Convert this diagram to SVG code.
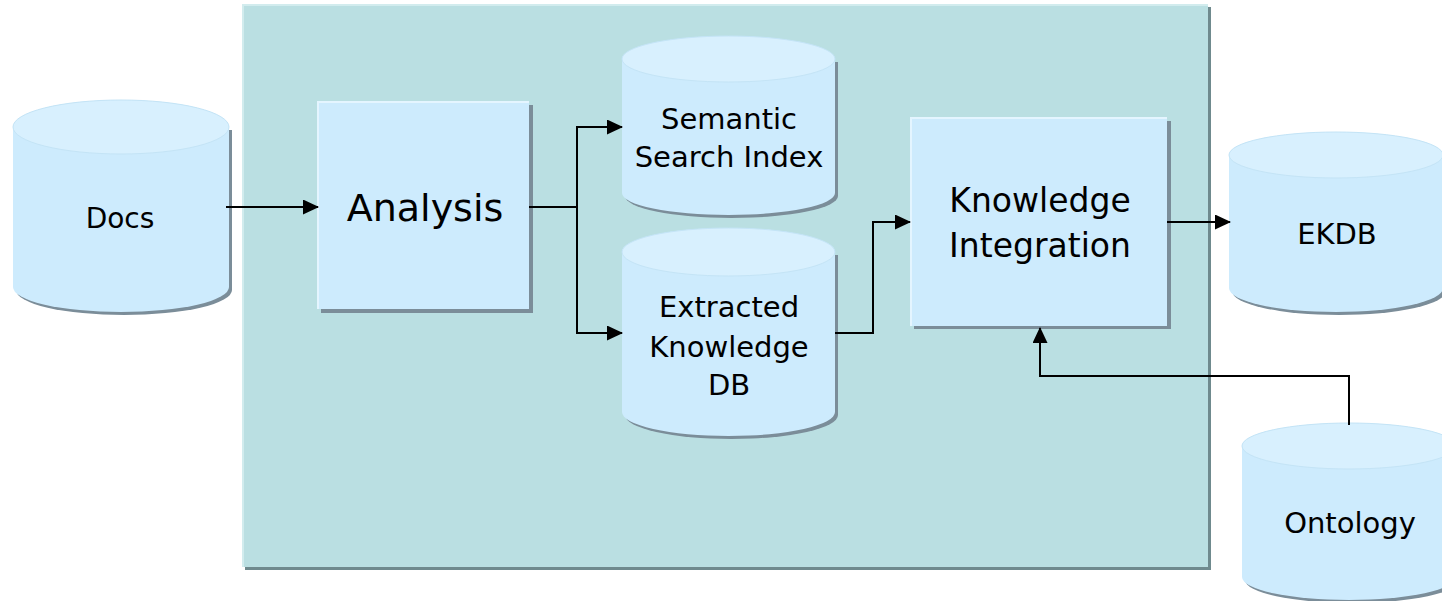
<svg xmlns="http://www.w3.org/2000/svg" width="1442" height="601" viewBox="0 0 1442 601">
  <style>
    .panel { fill: #badfe2; }
    .panel-shadow { fill: #6f8a8e; }
    .panel-hi { fill: none; stroke: #d2ecee; stroke-width: 2; }
    .box { fill: #cdebfd; }
    .box-hi { fill: none; stroke: #e4f5ff; stroke-width: 2; }
    .shadow { fill: #7b8d99; }
    .cyl { fill: #cdebfd; }
    .cyl-top { fill: #d8f0fe; stroke: #c4e4f6; stroke-width: 1; }
    .label { font-family: "DejaVu Sans", "Open Sans", sans-serif; fill: #000; text-anchor: middle; }
    .conn { fill: none; stroke: #000; stroke-width: 2; }
  </style>
  <defs>
    <marker id="arrow" viewBox="0 0 16 15" refX="15" refY="7.5" markerWidth="16" markerHeight="15" markerUnits="userSpaceOnUse" orient="auto">
      <path d="M0,0 L16,7.5 L0,15 Z" fill="#000"/>
    </marker>
  </defs>

  <rect width="1442" height="601" fill="#ffffff"/>

  <!-- processing area -->
  <g id="panel">
    <rect class="panel-shadow" x="245" y="7" width="966" height="563"/>
    <rect class="panel" x="242" y="4" width="966" height="563"/>
    <polyline class="panel-hi" points="243,567 243,5 1208,5"/>
  </g>

  <!-- Docs store -->
  <g id="docs">
    <path class="shadow" d="M16,130 L16,290 A108,25 0 0 0 232,290 L232,130 Z"/>
    <path class="cyl" d="M13,127 L13,287 A108,25 0 0 0 229,287 L229,127 A108,27 0 0 0 13,127 Z"/>
    <ellipse class="cyl-top" cx="121" cy="127" rx="108" ry="27"/>
    <text class="label" x="120" y="228" font-size="28">Docs</text>
  </g>

  <!-- Analysis step -->
  <g id="analysis">
    <rect class="shadow" x="321" y="105" width="212" height="208"/>
    <rect class="box" x="317" y="101" width="212" height="208"/>
    <polyline class="box-hi" points="318,309 318,102 529,102"/>
    <text class="label" x="425" y="221" font-size="38">Analysis</text>
  </g>

  <!-- Semantic search index store -->
  <g id="semantic-index">
    <path class="shadow" d="M625,62 L625,196 A106.5,22 0 0 0 838,196 L838,62 Z"/>
    <path class="cyl" d="M622,59 L622,193 A106.5,22 0 0 0 835,193 L835,59 A106.5,23 0 0 0 622,59 Z"/>
    <ellipse class="cyl-top" cx="728.5" cy="59" rx="106.5" ry="23"/>
    <text class="label" x="729" y="129" font-size="29">Semantic</text>
    <text class="label" x="729" y="167" font-size="29">Search Index</text>
  </g>

  <!-- Extracted knowledge store -->
  <g id="extracted-kdb">
    <path class="shadow" d="M625,255 L625,415 A106.5,24 0 0 0 838,415 L838,255 Z"/>
    <path class="cyl" d="M622,252 L622,412 A106.5,24 0 0 0 835,412 L835,252 A106.5,24 0 0 0 622,252 Z"/>
    <ellipse class="cyl-top" cx="728.5" cy="252" rx="106.5" ry="24"/>
    <text class="label" x="729" y="317" font-size="29">Extracted</text>
    <text class="label" x="729" y="357" font-size="29">Knowledge</text>
    <text class="label" x="729" y="395" font-size="29">DB</text>
  </g>

  <!-- Knowledge integration step -->
  <g id="knowledge-integration">
    <rect class="shadow" x="914" y="121" width="257" height="208"/>
    <rect class="box" x="910" y="117" width="257" height="209"/>
    <polyline class="box-hi" points="911,326 911,118 1167,118"/>
    <text class="label" x="1040" y="212" font-size="33">Knowledge</text>
    <text class="label" x="1040" y="257" font-size="33">Integration</text>
  </g>

  <!-- EKDB store -->
  <g id="ekdb">
    <path class="shadow" d="M1232,158 L1232,291 A107,24 0 0 0 1446,291 L1446,158 Z"/>
    <path class="cyl" d="M1229,155 L1229,288 A107,24 0 0 0 1443,288 L1443,155 A107,23 0 0 0 1229,155 Z"/>
    <ellipse class="cyl-top" cx="1336" cy="155" rx="107" ry="23"/>
    <text class="label" x="1337" y="244" font-size="29">EKDB</text>
  </g>

  <!-- Ontology store -->
  <g id="ontology">
    <path class="shadow" d="M1245,449 L1245,580 A107,23 0 0 0 1459,580 L1459,449 Z"/>
    <path class="cyl" d="M1242,446 L1242,577 A107,23 0 0 0 1456,577 L1456,446 A107,23 0 0 0 1242,446 Z"/>
    <ellipse class="cyl-top" cx="1349" cy="446" rx="107" ry="23"/>
    <text class="label" x="1350" y="533" font-size="29">Ontology</text>
  </g>

  <!-- data flow -->
  <g id="connectors">
    <path class="conn" marker-end="url(#arrow)" d="M226,207 H318"/>
    <path class="conn" marker-end="url(#arrow)" d="M529,207 H577 V127 H622"/>
    <path class="conn" marker-end="url(#arrow)" d="M577,207 V333 H622"/>
    <path class="conn" marker-end="url(#arrow)" d="M835,333 H873 V222 H910"/>
    <path class="conn" marker-end="url(#arrow)" d="M1167,222 H1230"/>
    <path class="conn" marker-end="url(#arrow)" d="M1349,425 V376 H1040 V328"/>
  </g>
</svg>
